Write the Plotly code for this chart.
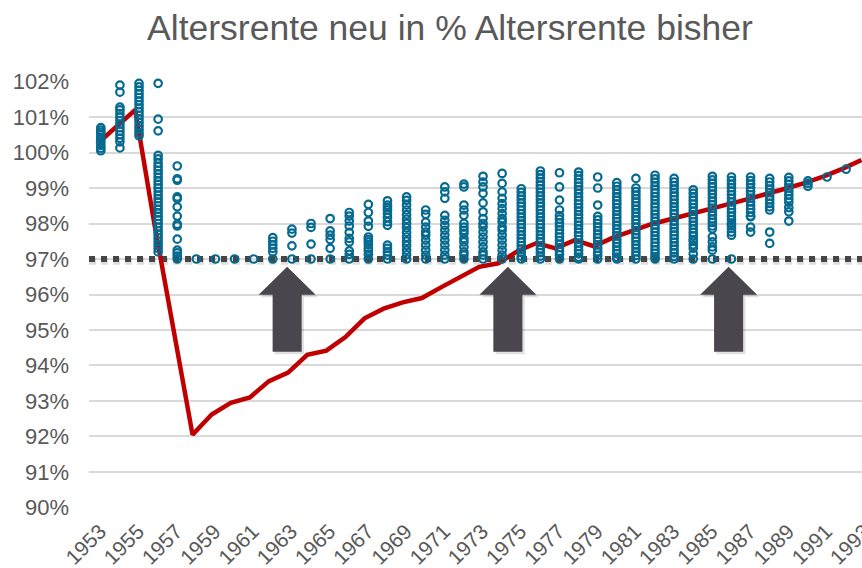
import plotly.graph_objects as go

# ---------------- data ----------------
title_text = "Altersrente neu in % Altersrente bisher"

years = [1953, 1954, 1955, 1956, 1957, 1958, 1959, 1960, 1961, 1962, 1963, 1964, 1965,
         1966, 1967, 1968, 1969, 1970, 1971, 1972, 1973, 1974, 1975, 1976, 1977, 1978,
         1979, 1980, 1981, 1982, 1983, 1984, 1985, 1986, 1987, 1988, 1989, 1990, 1991,
         1992, 1993]
line_values = [100.24, 100.72, 101.2, 98.0, 94.95, 92.05, 92.62, 92.95, 93.1, 93.56, 93.8,
               94.3, 94.42, 94.8, 95.33, 95.6, 95.78, 95.9, 96.2, 96.5, 96.78, 96.88, 97.22,
               97.45, 97.3, 97.53, 97.36, 97.6, 97.8, 97.98, 98.12, 98.25, 98.4, 98.54,
               98.68, 98.82, 98.98, 99.14, 99.32, 99.54, 99.79]

s1953 = [100.05, 100.12, 100.2, 100.28, 100.35, 100.42, 100.5, 100.57, 100.63, 100.7]
s1954 = [101.9, 101.7, 101.28, 101.2, 101.1, 101.0, 100.9, 100.8, 100.7, 100.6, 100.5,
         100.4, 100.3, 100.13]
s1955 = [101.95, 101.85, 101.75, 101.65, 101.55, 101.45, 101.35, 101.25, 101.15, 101.05,
         100.95, 100.85, 100.75, 100.65, 100.55, 100.47]
s1956 = [101.95, 100.94, 100.61, 99.92, 99.82, 99.7, 99.6, 99.5, 99.4, 99.3, 99.2, 99.1,
         99.0, 98.9, 98.8, 98.7, 98.6, 98.5, 98.4, 98.3, 98.2, 98.1, 98.0, 97.9, 97.8,
         97.7, 97.6, 97.5, 97.4, 97.3, 97.2]
s1957 = [99.62, 99.26, 99.22, 98.75, 98.7, 98.47, 98.21, 97.98, 97.93, 97.56, 97.25,
         97.17, 97.08, 97.0]
s1958 = [97.0]
s1959 = [97.0]
s1960 = [97.0]
s1961 = [97.0]
s1962 = [97.6, 97.5, 97.4, 97.3, 97.2, 97.0]
s1963 = [97.84, 97.73, 97.37, 97.0]
s1964 = [98.0, 97.89, 97.42, 97.0]
s1965 = [98.14, 97.79, 97.67, 97.55, 97.3, 97.0]
s1966 = [98.31, 98.21, 98.07, 97.93, 97.75, 97.58, 97.48, 97.23, 97.13, 97.0]
s1967 = [98.54, 98.31, 98.07, 97.92, 97.62, 97.55, 97.48, 97.4, 97.3, 97.23, 97.13, 97.0]
s1968 = [98.64, 98.52, 98.45, 98.38, 98.28, 98.17, 98.05, 97.95, 97.39, 97.3, 97.2,
         97.11, 97.0]
s1969 = [98.75, 98.65, 98.52, 98.38, 98.25, 98.12, 98.0, 97.88, 97.75, 97.62, 97.5,
         97.38, 97.25, 97.12, 97.0]
s1970 = [98.38, 98.26, 98.04, 97.9, 97.76, 97.67, 97.53, 97.39, 97.25, 97.11, 97.0]
s1971 = [99.03, 98.89, 98.71, 98.23, 98.09, 97.95, 97.81, 97.67, 97.53, 97.39, 97.25,
         97.11, 97.0]
s1972 = [99.11, 99.03, 98.52, 98.38, 98.23, 98.0, 97.9, 97.81, 97.72, 97.58, 97.48,
         97.34, 97.2, 97.11, 97.0]
s1973 = [99.33, 99.17, 99.03, 98.85, 98.58, 98.33, 98.14, 98.0, 97.9, 97.76, 97.62,
         97.48, 97.34, 97.2, 97.11, 97.0]
s1974 = [99.41, 99.13, 98.89, 98.71, 98.56, 98.42, 98.28, 98.14, 98.04, 97.9, 97.81,
         97.67, 97.53, 97.39, 97.25, 97.11, 97.0]
s1975 = [98.98, 98.88, 98.78, 98.68, 98.58, 98.48, 98.38, 98.28, 98.18, 98.08, 97.98,
         97.88, 97.78, 97.68, 97.58, 97.48, 97.38, 97.28, 97.18, 97.08, 97.0]
s1976 = [99.48, 99.38, 99.28, 99.18, 99.08, 98.98, 98.88, 98.78, 98.68, 98.58, 98.48,
         98.38, 98.28, 98.18, 98.08, 97.98, 97.88, 97.78, 97.68, 97.58, 97.48, 97.38,
         97.28, 97.18, 97.08, 97.0]
s1977 = [99.43, 99.03, 98.66, 98.38, 98.22, 98.12, 98.02, 97.92, 97.82, 97.72, 97.62,
         97.52, 97.42, 97.32, 97.22, 97.12, 97.0]
s1978 = [99.45, 99.35, 99.25, 99.15, 99.05, 98.95, 98.85, 98.75, 98.65, 98.55, 98.45,
         98.35, 98.25, 98.15, 98.05, 97.95, 97.85, 97.75, 97.65, 97.55, 97.45, 97.35,
         97.25, 97.15, 97.05, 97.0]
s1979 = [99.31, 99.0, 98.52, 98.2, 98.1, 98.0, 97.9, 97.8, 97.7, 97.6, 97.5, 97.4, 97.3,
         97.2, 97.1, 97.0]
s1980 = [99.15, 99.05, 98.95, 98.85, 98.75, 98.65, 98.55, 98.45, 98.35, 98.25, 98.15,
         98.05, 97.95, 97.85, 97.75, 97.65, 97.55, 97.45, 97.35, 97.25, 97.15, 97.05,
         97.0]
s1981 = [99.27, 99.0, 98.9, 98.8, 98.7, 98.6, 98.5, 98.4, 98.3, 98.2, 98.1, 98.0, 97.9,
         97.8, 97.7, 97.6, 97.5, 97.4, 97.3, 97.2, 97.1, 97.0]
s1982 = [99.36, 99.26, 99.16, 99.06, 98.96, 98.86, 98.76, 98.66, 98.56, 98.46, 98.36,
         98.26, 98.16, 98.06, 97.96, 97.86, 97.76, 97.66, 97.56, 97.46, 97.36, 97.26,
         97.16, 97.06, 97.0]
s1983 = [99.27, 99.17, 99.07, 98.97, 98.87, 98.77, 98.67, 98.57, 98.47, 98.37, 98.27,
         98.17, 98.07, 97.97, 97.87, 97.77, 97.67, 97.57, 97.47, 97.37, 97.27, 97.17,
         97.07, 97.0]
s1984 = [98.95, 98.85, 98.75, 98.65, 98.55, 98.45, 98.35, 98.25, 98.15, 98.05, 97.95,
         97.85, 97.75, 97.65, 97.55, 97.5, 97.4, 97.3, 97.15, 97.0]
s1985 = [99.33, 99.23, 99.13, 99.03, 98.93, 98.83, 98.73, 98.63, 98.53, 98.43, 98.33,
         98.23, 98.13, 98.03, 97.93, 97.85, 97.62, 97.48, 97.34, 97.25, 97.0]
s1986 = [99.31, 99.21, 99.11, 99.01, 98.91, 98.81, 98.71, 98.61, 98.51, 98.41, 98.31,
         98.21, 98.11, 98.01, 97.95, 97.86, 97.76, 97.67, 97.0]
s1987 = [99.31, 99.21, 99.11, 99.01, 98.91, 98.81, 98.71, 98.61, 98.51, 98.41, 98.31,
         98.21, 98.19, 97.9, 97.76]
s1988 = [99.27, 99.17, 99.07, 98.97, 98.87, 98.77, 98.67, 98.57, 98.47, 98.38, 97.76,
         97.44]
s1989 = [99.3, 99.2, 99.1, 99.0, 98.9, 98.8, 98.7, 98.6, 98.45, 98.33, 98.07]
s1990 = [99.2, 99.13, 99.05]
s1991 = [99.31]
s1992 = [99.53]
s1993 = [99.79]

scatter_columns = [
    (1953, s1953), (1954, s1954), (1955, s1955), (1956, s1956), (1957, s1957),
    (1958, s1958), (1959, s1959), (1960, s1960), (1961, s1961), (1962, s1962),
    (1963, s1963), (1964, s1964), (1965, s1965), (1966, s1966), (1967, s1967),
    (1968, s1968), (1969, s1969), (1970, s1970), (1971, s1971), (1972, s1972),
    (1973, s1973), (1974, s1974), (1975, s1975), (1976, s1976), (1977, s1977),
    (1978, s1978), (1979, s1979), (1980, s1980), (1981, s1981), (1982, s1982),
    (1983, s1983), (1984, s1984), (1985, s1985), (1986, s1986), (1987, s1987),
    (1988, s1988), (1989, s1989), (1990, s1990), (1991, s1991), (1992, s1992),
    (1993, s1993),
]

tick_years = [1953, 1955, 1957, 1959, 1961, 1963, 1965, 1967, 1969, 1971, 1973, 1975,
              1977, 1979, 1981, 1983, 1985, 1987, 1989, 1991, 1993]
tick_labels = ["1953", "1955", "1957", "1959", "1961", "1963", "1965", "1967", "1969",
               "1971", "1973", "1975", "1977", "1979", "1981", "1983", "1985", "1987",
               "1989", "1991", "1993"]
y_ticks = [90, 91, 92, 93, 94, 95, 96, 97, 98, 99, 100, 101, 102]
y_tick_labels = ["90%", "91%", "92%", "93%", "94%", "95%", "96%", "97%", "98%", "99%",
                 "100%", "101%", "102%"]
threshold = 97.0
arrow_years = [1962.95, 1974.5, 1986.05]

# ---------------- figure ----------------
FONT = "Liberation Sans, Arial, sans-serif"
GRAY_TXT = "#595959"
SCATTER_COLOR = "#066a90"
LINE_COLOR = "#C00000"
ARROW_COLOR = "#49474d"
X_RANGE = [1952.582, 1993.03]

sx, sy = [], []
for yr, vals in scatter_columns:
    sx += [yr + 0.2] * len(vals)
    sy += vals

fig = go.Figure()
# shadow of threshold line
fig.add_trace(go.Scatter(
    x=X_RANGE, y=[threshold - 0.06, threshold - 0.06], mode="lines",
    line=dict(color="rgba(0,0,0,0.13)", width=7, dash="7px,5px"),
    hoverinfo="skip", showlegend=False,
))
# dotted threshold line
fig.add_trace(go.Scatter(
    x=X_RANGE, y=[threshold, threshold], mode="lines",
    line=dict(color="#454545", width=6, dash="6px,6px"),
    hoverinfo="skip", showlegend=False,
))
fig.add_trace(go.Scatter(
    x=years, y=line_values, mode="lines",
    line=dict(color=LINE_COLOR, width=4.5),
    hoverinfo="skip", showlegend=False, cliponaxis=False,
))
fig.add_trace(go.Scatter(
    x=sx, y=sy, mode="markers",
    marker=dict(symbol="circle-open", size=7.5, color=SCATTER_COLOR,
                line=dict(width=2.2, color=SCATTER_COLOR)),
    hoverinfo="skip", showlegend=False, cliponaxis=False,
))

shapes = []
tip, head, bottom = 96.78, 95.99, 94.39
hw, sw = 1.49, 0.76
for ax in arrow_years:
    path = (f"M {ax - sw},{bottom} L {ax - sw},{head} L {ax - hw},{head} "
            f"L {ax},{tip} L {ax + hw},{head} L {ax + sw},{head} L {ax + sw},{bottom} Z")
    spath = (f"M {ax - sw + 0.12},{bottom - 0.07} L {ax - sw + 0.12},{head - 0.07} "
             f"L {ax - hw + 0.12},{head - 0.07} L {ax + 0.12},{tip - 0.07} "
             f"L {ax + hw + 0.12},{head - 0.07} L {ax + sw + 0.12},{head - 0.07} "
             f"L {ax + sw + 0.12},{bottom - 0.07} Z")
    shapes.append(dict(type="path", xref="x", yref="y", path=spath,
                       fillcolor="rgba(0,0,0,0.12)", line=dict(width=0), layer="above"))
    shapes.append(dict(type="path", xref="x", yref="y", path=path,
                       fillcolor=ARROW_COLOR, line=dict(width=0), layer="above"))

fig.update_layout(
    width=862, height=568,
    margin=dict(l=89, r=0, t=81, b=60, autoexpand=False),
    paper_bgcolor="white", plot_bgcolor="white",
    font=dict(family=FONT, color=GRAY_TXT),
    title=dict(text=title_text, font=dict(family=FONT, size=35.5, color=GRAY_TXT),
               xref="container", x=450 / 862, xanchor="center",
               yref="container", y=1 - 28 / 568, yanchor="middle"),
    showlegend=False, hovermode=False,
    shapes=shapes,
)
fig.update_xaxes(
    range=X_RANGE, tickmode="array", tickvals=tick_years, ticktext=tick_labels,
    tickangle=-45, showgrid=False, zeroline=False, showline=False, ticks="",
    tickfont=dict(family=FONT, size=21, color=GRAY_TXT), ticklabelstandoff=6,
    ticklabelshift=3, ticklabeloverflow="allow", automargin=False,
)
fig.update_yaxes(
    range=[89.985, 102.015], tickmode="array", tickvals=y_ticks, ticktext=y_tick_labels,
    showgrid=True, gridcolor="#d9d9d9", gridwidth=2, zeroline=False, showline=False,
    ticks="", tickfont=dict(family=FONT, size=22, color=GRAY_TXT), ticklabelstandoff=19,
    automargin=False,
)

fig.write_html("out.html",
               config={"displayModeBar": False, "staticPlot": True},
               post_script="document.body.style.margin='0';document.body.style.overflow='hidden';")
